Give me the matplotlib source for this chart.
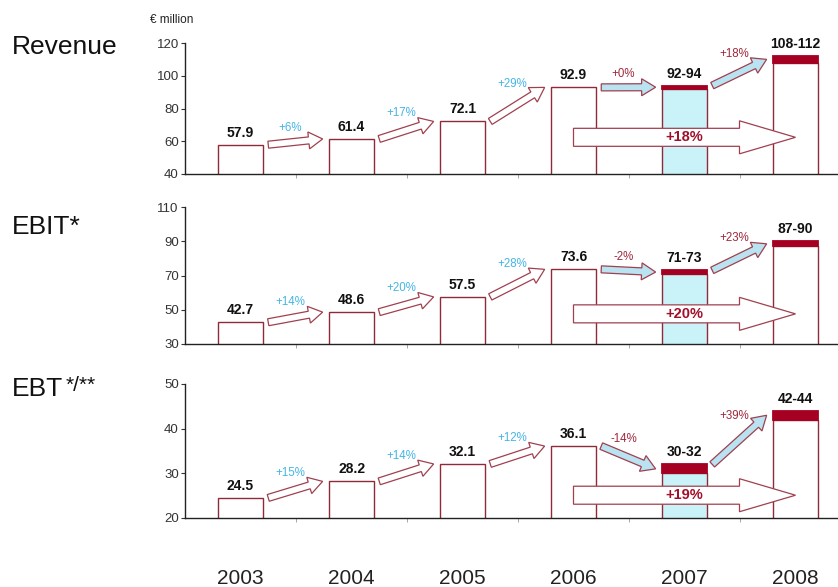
import matplotlib
matplotlib.use("Agg")
import matplotlib.pyplot as plt
import numpy as np
from matplotlib.patches import Polygon
from matplotlib.transforms import IdentityTransform, blended_transform_factory

plt.rcParams["font.family"] = ["Liberation Sans", "DejaVu Sans"]

# ---- data -------------------------------------------------------------
years = ["2003", "2004", "2005", "2006", "2007", "2008"]
forecast = [False, False, False, False, True, True]

revenue_low = [57.9, 61.4, 72.1, 92.9, 92, 108]
revenue_high = [57.9, 61.4, 72.1, 92.9, 94, 112]
revenue_growth = ["+6%", "+17%", "+29%", "+0%", "+18%"]
revenue_cagr = "+18%"

ebit_low = [42.7, 48.6, 57.5, 73.6, 71, 87]
ebit_high = [42.7, 48.6, 57.5, 73.6, 73, 90]
ebit_growth = ["+14%", "+20%", "+28%", "-2%", "+23%"]
ebit_cagr = "+20%"

ebt_low = [24.5, 28.2, 32.1, 36.1, 30, 42]
ebt_high = [24.5, 28.2, 32.1, 36.1, 32, 44]
ebt_growth = ["+15%", "+14%", "+12%", "-14%", "+39%"]
ebt_cagr = "+19%"

revenue_ticks = [40, 60, 80, 100, 120]
ebit_ticks = [30, 50, 70, 90, 110]
ebt_ticks = [20, 30, 40, 50]

# ---- styling ----------------------------------------------------------
W, H = 838, 587
EDGE = "#8e2a3a"
CAP = "#a50021"
CYAN_BAR = "#c9f3f9"
ARROW_BLUE = "#b9e3f1"
ARROW_EDGE = "#a0404f"
GROWTH_HIST = "#45b5e5"
GROWTH_FC = "#a0283c"
CAGR_TXT = "#a0102a"
BAR_FILLS = ["white", "white", "white", "white", CYAN_BAR, "white"]

fig = plt.figure(figsize=(W / 100, H / 100), dpi=100)


def axes_px(left, top, right, bottom):
    return fig.add_axes([left / W, 1 - bottom / H, (right - left) / W, (bottom - top) / H])


def block_arrow(ax, p0, p1, tail_w, head_w, head_len, fc, ec, lw=0.9, z=3):
    """Block arrow between two display-space points, sizes in pixels."""
    p0 = np.asarray(p0, float)
    p1 = np.asarray(p1, float)
    d = p1 - p0
    u = d / np.hypot(*d)
    n = np.array([-u[1], u[0]])
    h = p1 - u * head_len
    pts = [p0 + n * tail_w / 2, h + n * tail_w / 2, h + n * head_w / 2, p1,
           h - n * head_w / 2, h - n * tail_w / 2, p0 - n * tail_w / 2]
    poly = Polygon(pts, closed=True, facecolor=fc, edgecolor=ec, lw=lw,
                   transform=IdentityTransform(), zorder=z, clip_on=False)
    ax.add_artist(poly)


panels = [
    dict(title="Revenue", low=revenue_low, high=revenue_high, growth=revenue_growth,
         cagr=revenue_cagr, ticks=revenue_ticks, box=(43, 174), title_y=47, cagr_y=0.28),
    dict(title="EBIT*", low=ebit_low, high=ebit_high, growth=ebit_growth,
         cagr=ebit_cagr, ticks=ebit_ticks, box=(207, 344), title_y=227, cagr_y=0.22),
    dict(title="EBT", low=ebt_low, high=ebt_high, growth=ebt_growth,
         cagr=ebt_cagr, ticks=ebt_ticks, box=(384, 518), title_y=389, cagr_y=0.17),
]

x = np.arange(len(years))
bar_w = 0.405

for p in panels:
    top, bottom = p["box"]
    ax = axes_px(185, top, W, bottom)
    low = np.array(p["low"])
    high = np.array(p["high"])

    ax.set_xlim(-0.5, -0.5 + (W - 185) / 111)
    ax.set_ylim(p["ticks"][0], p["ticks"][-1])
    ax.set_yticks(p["ticks"])
    ax.set_xticks([])
    ax.set_xticks(x[:-1] + 0.5, minor=True)
    ax.tick_params(axis="y", length=3, width=0.8, pad=1.5, labelsize=9.5,
                   colors="#333333")
    ax.tick_params(axis="x", which="minor", length=3, width=0.6, colors="#999999")
    for s in ("top", "right"):
        ax.spines[s].set_visible(False)
    for s in ("left", "bottom"):
        ax.spines[s].set_color("#222222")
        ax.spines[s].set_linewidth(1.0)
        ax.spines[s].set_zorder(6)
    ax.patch.set_alpha(0)

    # bars up to the lower value, cap for the forecast range
    ax.bar(x, low, width=bar_w, color=BAR_FILLS, edgecolor=EDGE, lw=1.0, zorder=2)
    fc_idx = [i for i, f in enumerate(forecast) if f]
    ax.bar(x[fc_idx], (high - low)[fc_idx], bottom=low[fc_idx], width=bar_w,
           color=CAP, edgecolor=CAP, lw=1.3, zorder=2)

    # value labels
    for i in x:
        txt = f"{low[i]:g}-{high[i]:g}" if forecast[i] else f"{low[i]:.1f}"
        ax.annotate(txt, (i, high[i]), xytext=(0, 5), textcoords="offset pixels",
                    ha="center", va="bottom", fontsize=10, fontweight="bold",
                    color="#111111", zorder=7)

    p["ax"] = ax

# growth arrows between consecutive years (need final transforms)
for p in panels:
    ax = p["ax"]
    low = np.array(p["low"])
    high = np.array(p["high"])
    for i in range(len(years) - 1):
        y0 = high[i]
        y1 = (low[i + 1] + high[i + 1]) / 2
        a = ax.transData.transform((i + 0.25, y0))
        b = ax.transData.transform((i + 1 - 0.26, y1))
        fc_step = forecast[i + 1]
        block_arrow(ax, a, b, 7, 17, 14,
                    ARROW_BLUE if fc_step else "white", ARROW_EDGE)
        mid = (a + b) / 2
        lift = 13 + 0.22 * abs(b[1] - a[1])
        mx, my = ax.transData.inverted().transform(mid)
        ax.annotate(p["growth"][i], (mx, my), xytext=(-5, lift),
                    textcoords="offset pixels", ha="center", va="center",
                    fontsize=8.3, color=GROWTH_FC if fc_step else GROWTH_HIST,
                    zorder=7)

    # long-range growth arrow from 2006 to 2008
    tr = blended_transform_factory(ax.transData, ax.transAxes)
    a = tr.transform((3, p["cagr_y"]))
    b = tr.transform((5, p["cagr_y"]))
    block_arrow(ax, a, b, 18, 33, 56, "white", ARROW_EDGE, lw=0.9, z=4)
    ax.text(4, p["cagr_y"], p["cagr"], transform=tr, ha="center", va="center",
            fontsize=10.5, fontweight="bold", color=CAGR_TXT, zorder=7)

# year labels under the bottom panel
bottom_ax = panels[-1]["ax"]
yr_tr = blended_transform_factory(bottom_ax.transData, fig.transFigure)
for i, yr in enumerate(years):
    bottom_ax.text(i, 1 - 578 / H, yr, transform=yr_tr, ha="center", va="center",
                   fontsize=15, color="#222222", clip_on=False)

# panel titles
renderer = fig.canvas.get_renderer()
title_artists = []
for p in panels:
    t = fig.text(12 / W, 1 - p["title_y"] / H, p["title"], fontsize=19,
                 va="center", ha="left", color="#111111")
    title_artists.append(t)
bb = title_artists[-1].get_window_extent(renderer)
fig.text((bb.x1 + 2) / W, 1 - 376 / H, "*/**", fontsize=15, va="top",
         ha="left", color="#111111")

fig.text(150 / W, 1 - 20 / H, "\u20ac million", fontsize=8.5, va="center",
         ha="left", color="#222222")

fig.savefig("out.png", dpi=100)
